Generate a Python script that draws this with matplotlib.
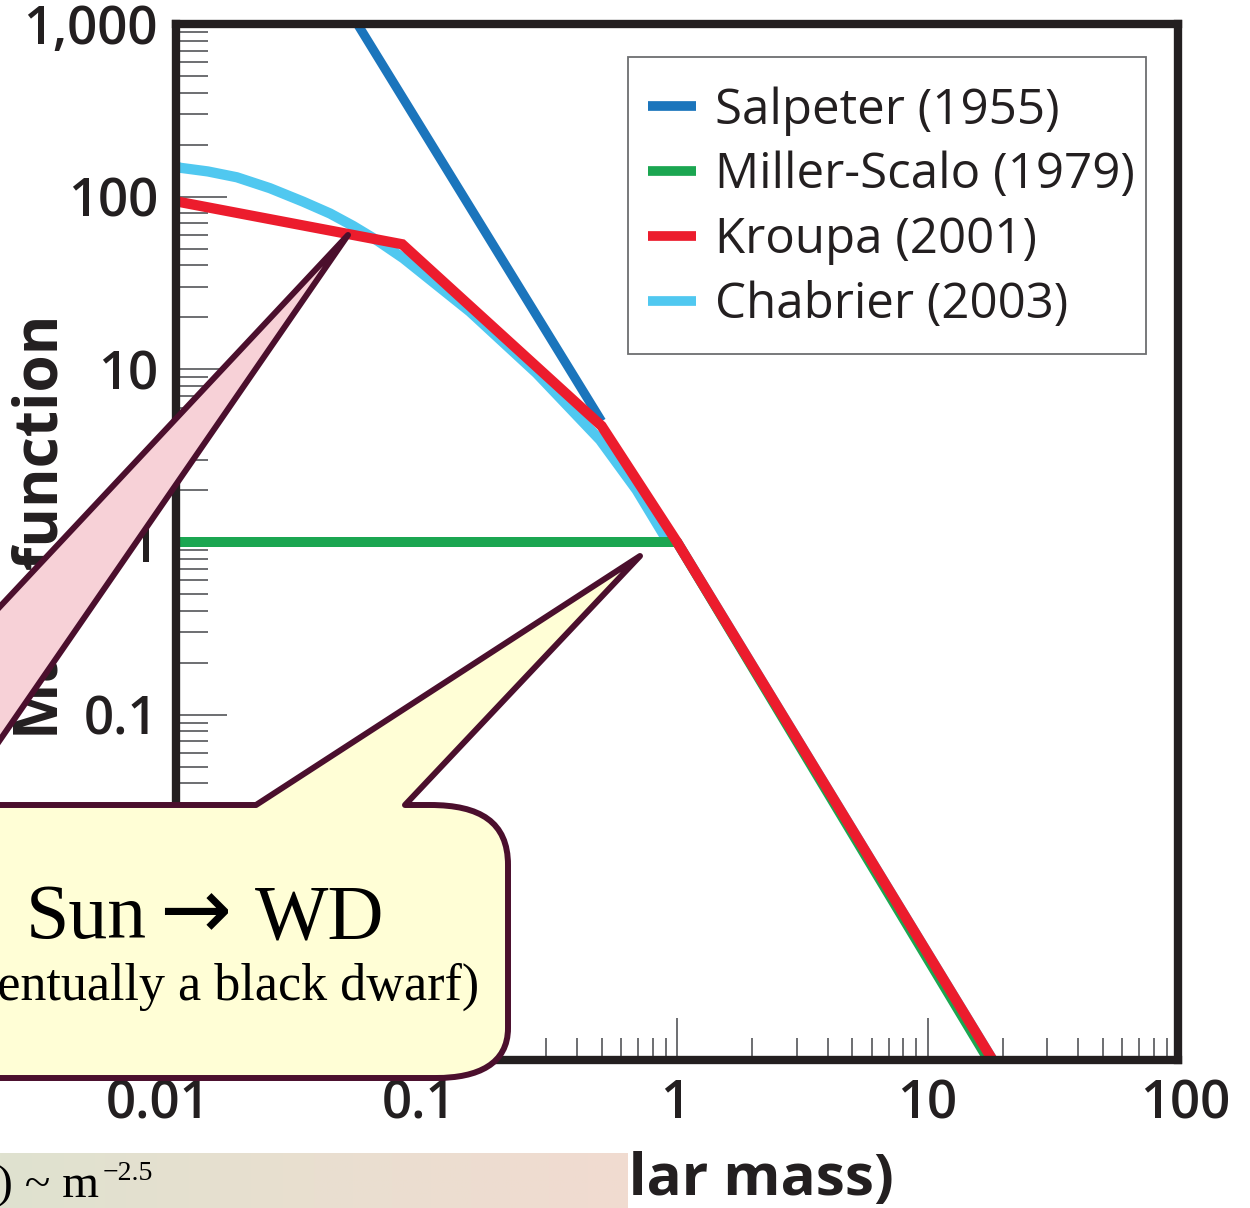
import numpy as np
import matplotlib
matplotlib.use('Agg')
import matplotlib.pyplot as plt
import matplotlib.transforms as mtransforms
from matplotlib.path import Path
from matplotlib.patches import PathPatch, Rectangle
from matplotlib.colors import LinearSegmentedColormap
from matplotlib.ticker import FixedLocator, FixedFormatter, LogLocator, NullFormatter

# IMF curves (mass in solar masses, mass function)
salpeter_m = [0.053, 0.5]
salpeter_v = [1000, 5.0]

miller_m = [0.01, 1.0, 17.5]
miller_v = [1.0, 1.0, 0.001]

kroupa_m = [0.01, 0.08, 0.5, 1.0, 18.2]
kroupa_v = [94, 53, 4.7, 1.0, 0.001]

chabrier_m = [0.01, 0.0104, 0.0134, 0.0175, 0.0237, 0.0322, 0.0412, 0.051, 0.064,
              0.0808, 0.149, 0.275, 0.493, 0.69, 0.91, 1.0, 18.2]
chabrier_v = [150, 147, 140, 129.5, 112, 93.5, 79.9, 67.6, 55.4,
              44.0, 21.6, 9.5, 3.9, 2.0, 1.03, 1.0, 0.001]

labels = ['Salpeter (1955)', 'Miller-Scalo (1979)', 'Kroupa (2001)', 'Chabrier (2003)']
colors = ['#1b75bc', '#1ba651', '#ec1c2d', '#50c8f0']

x_ticks = [0.01, 0.1, 1, 10, 100]
x_ticklabels = ['0.01', '0.1', '1', '10', '100']
y_ticks = [0.001, 0.01, 0.1, 1, 10, 100, 1000]
y_ticklabels = ['0.001', '0.01', '0.1', '1', '10', '100', '1,000']

W, H = 1250, 1208
SANS = ['Open Sans', 'DejaVu Sans']
SERIF = ['Liberation Serif', 'DejaVu Serif']
EDGE = '#4b0f2d'
INK = '#231f20'

fig = plt.figure(figsize=(W / 100, H / 100), dpi=100)


def px(x, y):
    # pixel position (from top-left) -> figure fraction
    return (x / W, 1 - y / H)


ax = fig.add_axes([176 / W, 1 - 1060 / H, (1178 - 176) / W, (1060 - 24) / H])
ax.set_xscale('log')
ax.set_yscale('log')

ax.plot(chabrier_m, chabrier_v, color=colors[3], lw=7.4, solid_capstyle='butt', zorder=2)
ax.plot(salpeter_m, salpeter_v, color=colors[0], lw=6.6, solid_capstyle='butt', zorder=3)
ax.plot(miller_m, miller_v, color=colors[1], lw=7.2, solid_capstyle='butt', zorder=4)
ax.plot(kroupa_m, kroupa_v, color=colors[2], lw=7.4, solid_capstyle='butt',
        solid_joinstyle='miter', zorder=5)

ax.set_xlim(0.01, 100)
ax.set_ylim(0.001, 1000)

for s in ax.spines.values():
    s.set_linewidth(6)
    s.set_color(INK)
    s.set_zorder(6)

ax.xaxis.set_major_locator(FixedLocator(x_ticks))
ax.xaxis.set_major_formatter(FixedFormatter(x_ticklabels))
ax.yaxis.set_major_locator(FixedLocator(y_ticks))
ax.yaxis.set_major_formatter(FixedFormatter(y_ticklabels))
ax.xaxis.set_minor_locator(LogLocator(base=10, subs=np.arange(2, 10), numticks=100))
ax.yaxis.set_minor_locator(LogLocator(base=10, subs=np.arange(2, 10), numticks=100))
ax.xaxis.set_minor_formatter(NullFormatter())
ax.yaxis.set_minor_formatter(NullFormatter())

ax.tick_params(which='both', direction='in', color='#6d6e71', width=1.4,
               top=False, right=False)
ax.tick_params(axis='y', which='major', length=37, pad=13)
ax.tick_params(axis='y', which='minor', length=23)
ax.tick_params(axis='x', which='major', length=30, pad=13)
ax.tick_params(axis='x', which='minor', length=16)
for lab in ax.get_xticklabels() + ax.get_yticklabels():
    lab.set_family(SANS)
    lab.set_fontsize(38)
    lab.set_fontweight('semibold')
    lab.set_color(INK)

# the x labels in the original sit a little off their ticks
for lab, dx in zip(ax.get_xticklabels(), [-18, -8, -2, 0, 7]):
    lab.set_transform(lab.get_transform() +
                      mtransforms.ScaledTranslation(dx / 100, 0, fig.dpi_scale_trans))

# legend: frame drawn on its own so the padding can match
handles = ax.get_lines()
order = [handles[1], handles[2], handles[3], handles[0]]
leg = ax.legend(order, labels, loc='upper left',
                bbox_to_anchor=px(648, 86), bbox_transform=fig.transFigure,
                borderaxespad=0, borderpad=0, frameon=False,
                prop={'family': SANS, 'size': 35.5}, handlelength=0.98,
                handletextpad=0.38, labelspacing=0.31)
leg.set_zorder(8)
for ln in leg.get_lines():
    ln.set_linewidth(7)
for t in leg.get_texts():
    t.set_color(INK)
ax.add_patch(Rectangle(px(628, 354), (1146 - 628) / W, (354 - 57) / H,
                       transform=fig.transFigure, facecolor='white',
                       edgecolor='#6d6e71', lw=1.3, zorder=7))

# axis labels (partly covered by the overlays)
fig.text(*px(42, 527), 'Mass function', rotation=90, ha='center', va='center',
         family=SANS, fontsize=43.5, fontweight='bold', color=INK, zorder=3)
fig.text(*px(637, 1195), 'Mass (solar mass)', ha='center', va='baseline',
         family=SANS, fontsize=42, fontweight='bold', color=INK, zorder=3)


def to_fig(points):
    return [px(x, y) for x, y in points]


# pink callout pointer (body is off to the left)
pink = Path(to_fig([(-80, 692), (348, 235), (-80, 856), (-80, 692)]),
            [Path.MOVETO, Path.LINETO, Path.LINETO, Path.CLOSEPOLY])
fig.add_artist(PathPatch(pink, transform=fig.transFigure, facecolor='#f7d1d7',
                         edgecolor=EDGE, lw=4.3, joinstyle='round', zorder=6))

# yellow callout
yv = [(-80, 805), (256, 805), (640, 556), (405, 805), (430, 805),
      (480, 805), (508, 822), (508, 865),
      (508, 1028),
      (508, 1064), (478, 1078), (436, 1078),
      (-80, 1078), (-80, 805)]
yc = [Path.MOVETO, Path.LINETO, Path.LINETO, Path.LINETO, Path.LINETO,
      Path.CURVE4, Path.CURVE4, Path.CURVE4,
      Path.LINETO,
      Path.CURVE4, Path.CURVE4, Path.CURVE4,
      Path.LINETO, Path.CLOSEPOLY]
fig.add_artist(PathPatch(Path(to_fig(yv), yc), transform=fig.transFigure,
                         facecolor='#fffed6', edgecolor=EDGE, lw=4.3,
                         joinstyle='round', zorder=6))
fig.text(*px(26, 938), 'Sun', ha='left', va='baseline',
         family=SERIF, fontsize=56, color='black', zorder=7)
fig.text(*px(195, 938), '\u2192', ha='center', va='baseline',
         family=['DejaVu Sans'], fontsize=62, color='black', zorder=7)
fig.text(*px(384, 938), 'WD', ha='right', va='baseline',
         family=SERIF, fontsize=56, color='black', zorder=7)
fig.text(*px(205, 1000), '(eventually a black dwarf)', ha='center', va='baseline',
         family=SERIF, fontsize=37.5, color='black', zorder=7)

# gradient strip at the bottom
band = fig.add_axes([0, 0, 628 / W, (H - 1153) / H], zorder=10)
cmap = LinearSegmentedColormap.from_list('band', ['#dfe2cf', '#e9dfd0', '#f1dbd0'])
band.imshow(np.linspace(0, 1, 256).reshape(1, -1), cmap=cmap, aspect='auto',
            extent=[0, 1, 0, 1])
band.set_axis_off()
fig.text(*px(-3, 1197), ') ~ m', ha='left', va='baseline', family=SERIF,
         fontsize=34, color='black', zorder=11)
fig.text(*px(103, 1180), '\u22122.5', ha='left', va='baseline', family=SERIF,
         fontsize=20, color='black', zorder=11)

fig.savefig('out.png', dpi=100)
